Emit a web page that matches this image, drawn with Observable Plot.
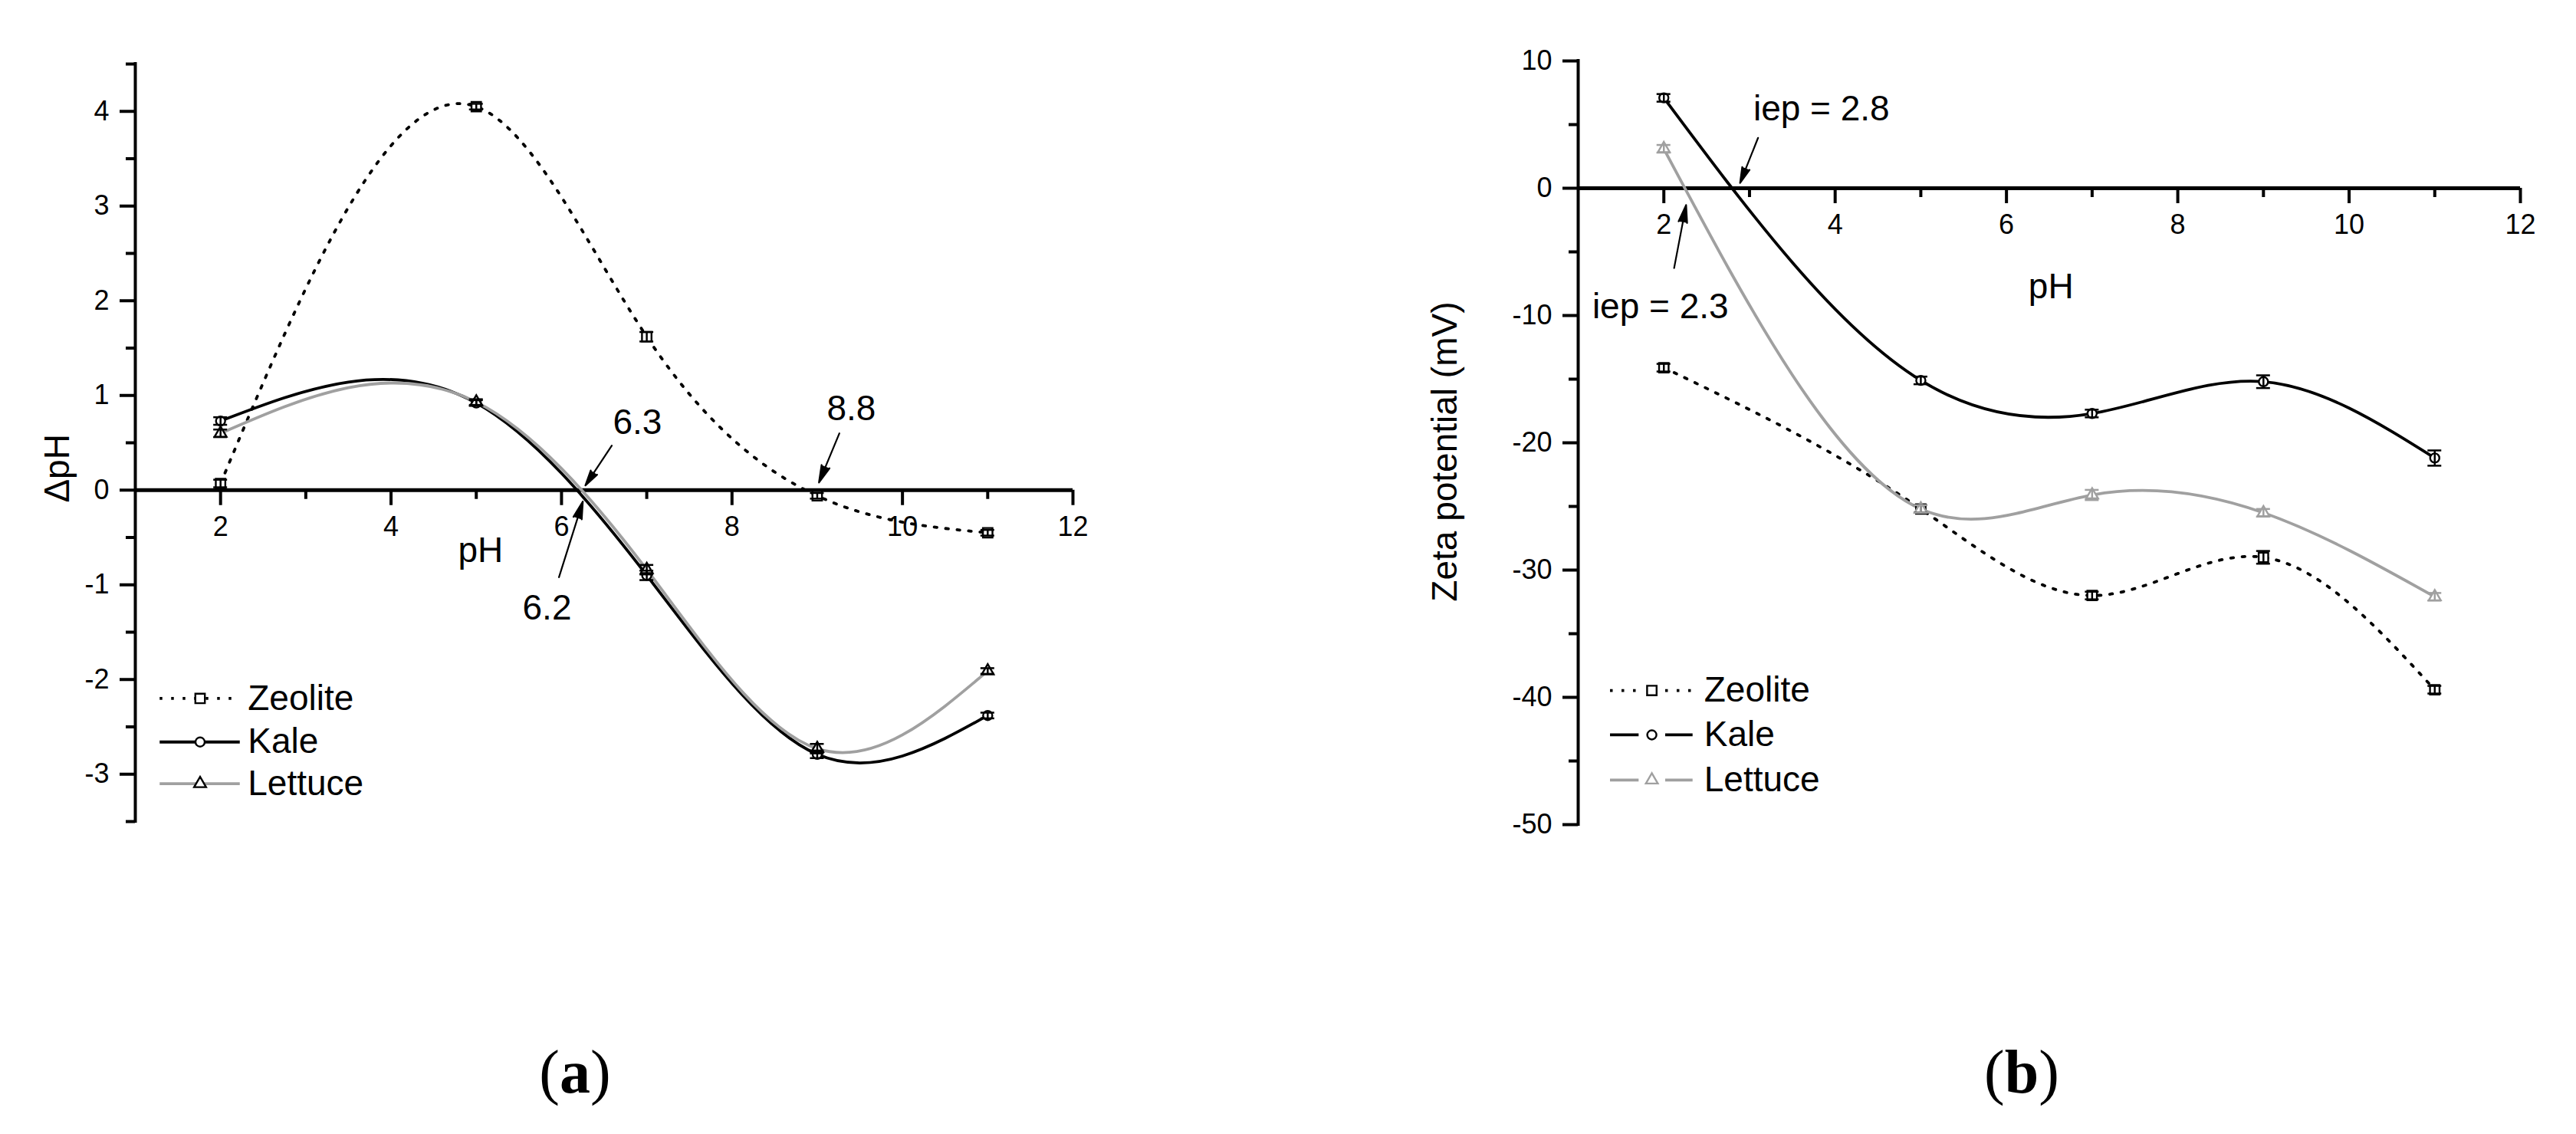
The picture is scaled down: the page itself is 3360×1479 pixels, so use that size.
<!DOCTYPE html>
<html><head><meta charset="utf-8">
<script src="https://cdn.jsdelivr.net/npm/d3@7"></script>
<script src="https://cdn.jsdelivr.net/npm/@observablehq/plot@0.6"></script>
<style>
html,body{margin:0;padding:0;background:#fff}
body{width:3360px;height:1479px;position:relative;overflow:hidden;font-family:"Liberation Sans",Arial,sans-serif}
#pa,#pb{position:absolute;top:0}
#pa{left:0}
#pb{left:1700px}
.cap{position:absolute;top:1398px;transform:translate(-50%,-50%);font-family:"Liberation Serif","Times New Roman",serif;font-size:80px;line-height:1;white-space:nowrap}
.cap b{font-weight:bold}
</style></head><body>
<div id="pa"></div><div id="pb"></div>
<div class="cap" style="left:750px">(<b>a</b>)</div>
<div class="cap" style="left:2637px">(<b>b</b>)</div>
<script>
// ---------------- data ----------------
const pH = [2, 5, 7, 9, 11];
const seriesNames = ["Zeolite", "Kale", "Lettuce"];

// (a) ΔpH
const dpH_Zeolite = [0.07, 4.05, 1.62, -0.06, -0.45];
const dpH_Kale    = [0.73, 0.92, -0.90, -2.79, -2.38];
const dpH_Lettuce = [0.60, 0.93, -0.84, -2.73, -1.91];
const dpHErr_Zeolite = [0.04, 0.03, 0.05, 0.03, 0.03];
const dpHErr_Kale    = [0.04, 0.03, 0.05, 0.04, 0.03];
const dpHErr_Lettuce = [0.04, 0.03, 0.05, 0.05, 0.03];

// (b) Zeta potential (mV)
const zeta_Zeolite = [-14.1, -25.2, -32.0, -29.0, -39.4];
const zeta_Kale    = [7.1, -15.1, -17.7, -15.2, -21.2];
const zeta_Lettuce = [3.1, -25.2, -24.1, -25.5, -32.1];
const zetaErr_Zeolite = [0.3, 0.3, 0.3, 0.5, 0.3];
const zetaErr_Kale    = [0.3, 0.3, 0.3, 0.5, 0.6];
const zetaErr_Lettuce = [0.3, 0.3, 0.4, 0.3, 0.3];

// axes
const xTicksMajor = [2, 4, 6, 8, 10, 12];
const xTicksMinor = [3, 5, 7, 9, 11];
const yTicksMajorA = [-3, -2, -1, 0, 1, 2, 3, 4];
const yTicksMinorA = [-3.5, -2.5, -1.5, -0.5, 0.5, 1.5, 2.5, 3.5, 4.5];
const yTicksMajorB = [-50, -40, -30, -20, -10, 0, 10];
const yTicksMinorB = [-45, -35, -25, -15, -5, 5];

// texts
const xTitle = "pH";
const yTitleA = "ΔpH";
const yTitleB = "Zeta potential (mV)";
const annotLabelsA = ["6.3", "6.2", "8.8"];
const annotLabelsB = ["iep = 2.8", "iep = 2.3"];

// ---------------- layout (data coordinates of placed items) ----------------
const layoutA = {
  xDomain: [1, 12], yDomain: [-3.5, 4.5],
  width: 1500, height: 1160, margins: [83, 101, 89, 176],
  legend: {x1: 1.29, x2: 2.23, xs: 1.76, xt: 2.32, ys: [-2.20, -2.66, -3.10], gap: false},
  ann: [
    {tx: 6.89, ty: 0.71, x1: 6.59, y1: 0.47, x2: 6.28, y2: 0.05},
    {tx: 5.83, ty: -1.25, x1: 5.97, y1: -0.92, x2: 6.25, y2: -0.12},
    {tx: 9.40, ty: 0.86, x1: 9.26, y1: 0.60, x2: 9.02, y2: 0.08}
  ],
  xTitlePos: {x: 5.05, y: -0.64},
  yTitlePos: {y: 0.23, dx: -101},
  yMaj: yTicksMajorA, yMin: yTicksMinorA
};
const layoutB = {
  xDomain: [1, 12], yDomain: [-50, 10],
  width: 1660, height: 1160, margins: [79, 73, 85, 358],
  legend: {x1: 1.376, x2: 2.34, xs: 1.86, gx1: 1.71, gx2: 2.02, xt: 2.47, ys: [-39.46, -42.95, -46.5], gap: true},
  ann: [
    {tx: 3.84, ty: 6.2, x1: 3.10, y1: 3.96, x2: 2.89, y2: 0.41},
    {tx: 1.96, ty: -9.35, x1: 2.12, y1: -6.27, x2: 2.26, y2: -1.32}
  ],
  xTitlePos: {x: 6.52, y: -7.74},
  yTitlePos: {y: -20.7, dx: -173},
  yMaj: yTicksMajorB, yMin: yTicksMinorB
};

const GRAY = "#a0a0a0";
const stylesA = {
  Zeolite: {stroke: "black", dash: "3.5 11.5", symbol: "square", r: 7, mstroke: "black"},
  Kale:    {stroke: "black", dash: null, symbol: "circle", r: 6, mstroke: "black"},
  Lettuce: {stroke: GRAY, dash: null, symbol: "triangle", r: 5.8, mstroke: "black"}
};
const stylesB = {
  Zeolite: {stroke: "black", dash: "3.5 11.5", symbol: "square", r: 7, mstroke: "black"},
  Kale:    {stroke: "black", dash: null, symbol: "circle", r: 6, mstroke: "black"},
  Lettuce: {stroke: GRAY, dash: null, symbol: "triangle", r: 5.8, mstroke: GRAY}
};

const rows = (ys, es) => pH.map((x, i) => ({x, y: ys[i], e: es[i]}));
const seriesA = {
  Zeolite: rows(dpH_Zeolite, dpHErr_Zeolite),
  Kale: rows(dpH_Kale, dpHErr_Kale),
  Lettuce: rows(dpH_Lettuce, dpHErr_Lettuce)
};
const seriesB = {
  Zeolite: rows(zeta_Zeolite, zetaErr_Zeolite),
  Kale: rows(zeta_Kale, zetaErr_Kale),
  Lettuce: rows(zeta_Lettuce, zetaErr_Lettuce)
};

// Curve factory: natural cubic spline with y as a function of x (drawn as Bézier segments)
function curveNaturalX(context) {
  let xs = [], ys = [];
  return {
    areaStart() {}, areaEnd() {},
    lineStart() { xs = []; ys = []; },
    point(x, y) { xs.push(+x); ys.push(+y); },
    lineEnd() {
      const n = xs.length;
      if (!n) return;
      context.moveTo(xs[0], ys[0]);
      if (n === 1) return;
      if (n === 2) { context.lineTo(xs[1], ys[1]); return; }
      const h = [], d = [];
      for (let i = 0; i < n - 1; i++) { h[i] = xs[i + 1] - xs[i]; d[i] = (ys[i + 1] - ys[i]) / h[i]; }
      const m = n - 2, a = [], b = [], c = [], r = [];
      for (let k = 0; k < m; k++) {
        const i = k + 1;
        a[k] = h[i - 1]; b[k] = 2 * (h[i - 1] + h[i]); c[k] = h[i]; r[k] = 6 * (d[i] - d[i - 1]);
      }
      for (let k = 1; k < m; k++) { const w = a[k] / b[k - 1]; b[k] -= w * c[k - 1]; r[k] -= w * r[k - 1]; }
      const M = new Array(n).fill(0);
      for (let k = m - 1; k >= 0; k--) M[k + 1] = (r[k] - (k < m - 1 ? c[k] * M[k + 2] : 0)) / b[k];
      for (let i = 0; i < n - 1; i++) {
        const s0 = d[i] - h[i] * (2 * M[i] + M[i + 1]) / 6;
        const s1 = d[i] + h[i] * (M[i] + 2 * M[i + 1]) / 6;
        context.bezierCurveTo(xs[i] + h[i] / 3, ys[i] + s0 * h[i] / 3,
                              xs[i + 1] - h[i] / 3, ys[i + 1] - s1 * h[i] / 3,
                              xs[i + 1], ys[i + 1]);
      }
    }
  };
}

const FONT = "Liberation Sans, Arial, sans-serif";
const LW = 3.8;

function panel(L, series, styles, yTitle, annLabels) {
  const [x0, x1] = L.xDomain, [y0, y1] = L.yDomain;
  const marks = [];
  // y axis
  marks.push(Plot.ruleX([x0], {y1: () => y0, y2: () => y1, strokeWidth: 4, strokeLinecap: "square"}));
  marks.push(Plot.ruleY(L.yMaj, {y: d => d, x1: () => x0, x2: () => x0, insetLeft: -20, strokeWidth: 4}));
  marks.push(Plot.ruleY(L.yMin, {y: d => d, x1: () => x0, x2: () => x0, insetLeft: -12, strokeWidth: 4}));
  marks.push(Plot.text(L.yMaj, {x: () => x0, y: d => d, text: d => String(d), textAnchor: "end", dx: -34, fontSize: 36}));
  // x axis at y = 0
  marks.push(Plot.ruleY([0], {x1: () => x0, x2: () => x1, strokeWidth: 5}));
  marks.push(Plot.ruleX(xTicksMajor, {x: d => d, y1: () => 0, y2: () => 0, insetBottom: -20, strokeWidth: 4}));
  marks.push(Plot.ruleX(xTicksMinor, {x: d => d, y1: () => 0, y2: () => 0, insetBottom: -12, strokeWidth: 4}));
  marks.push(Plot.text(xTicksMajor, {x: d => d, y: () => 0, text: d => String(d), dy: 48, fontSize: 36}));
  // titles
  marks.push(Plot.text([xTitle], {x: () => L.xTitlePos.x, y: () => L.xTitlePos.y, text: d => d, fontSize: 46}));
  marks.push(Plot.text([yTitle], {x: () => x0, y: () => L.yTitlePos.y, text: d => d, dx: L.yTitlePos.dx, rotate: -90, fontSize: 46}));
  // curves
  for (const name of seriesNames) {
    const s = styles[name];
    marks.push(Plot.line(series[name], {x: "x", y: "y", curve: curveNaturalX, stroke: s.stroke, strokeWidth: LW,
      strokeDasharray: s.dash || undefined}));
  }
  // markers
  for (const name of seriesNames) {
    const s = styles[name];
    marks.push(Plot.dot(series[name], {x: "x", y: "y", symbol: s.symbol, r: s.r, fill: "white", stroke: s.mstroke, strokeWidth: 2.4}));
  }
  // error bars
  for (const name of seriesNames) {
    const s = styles[name];
    const d = series[name];
    marks.push(Plot.ruleX(d, {x: "x", y1: r => r.y - r.e, y2: r => r.y + r.e, stroke: s.mstroke, strokeWidth: 2.5}));
    marks.push(Plot.ruleY(d, {y: r => r.y + r.e, x1: "x", x2: "x", insetLeft: -9, insetRight: -9, stroke: s.mstroke, strokeWidth: 2.5}));
    marks.push(Plot.ruleY(d, {y: r => r.y - r.e, x1: "x", x2: "x", insetLeft: -9, insetRight: -9, stroke: s.mstroke, strokeWidth: 2.5}));
  }
  // legend
  const lg = L.legend;
  seriesNames.forEach((name, i) => {
    const s = styles[name];
    const yy = lg.ys[i];
    const segs = lg.gap ? [[lg.x1, lg.gx1], [lg.gx2, lg.x2]] : [[lg.x1, lg.x2]];
    marks.push(Plot.ruleY(segs, {y: () => yy, x1: d => d[0], x2: d => d[1], stroke: s.stroke, strokeWidth: LW,
      strokeDasharray: s.dash || undefined}));
    marks.push(Plot.dot([name], {x: () => lg.xs, y: () => yy, symbol: s.symbol, r: s.r, fill: "white", stroke: s.mstroke, strokeWidth: 2.4}));
    marks.push(Plot.text([name], {x: () => lg.xt, y: () => yy, text: d => d, textAnchor: "start", fontSize: 46}));
  });
  // annotations
  const ann = L.ann.map((a, i) => ({...a, label: annLabels[i]}));
  marks.push(Plot.arrow(ann, {x1: "x1", y1: "y1", x2: "x2", y2: "y2", stroke: "black", fill: "black", strokeWidth: 2.2, headLength: 16, headAngle: 28}));
  marks.push(Plot.text(ann, {x: "tx", y: "ty", text: "label", fontSize: 46}));

  const [mt, mr, mb, ml] = L.margins;
  return Plot.plot({
    width: L.width, height: L.height,
    marginTop: mt, marginRight: mr, marginBottom: mb, marginLeft: ml,
    x: {domain: L.xDomain, axis: null},
    y: {domain: L.yDomain, axis: null},
    style: {fontFamily: FONT, background: "white", overflow: "visible", color: "black"},
    marks
  });
}

document.getElementById("pa").appendChild(panel(layoutA, seriesA, stylesA, yTitleA, annotLabelsA));
document.getElementById("pb").appendChild(panel(layoutB, seriesB, stylesB, yTitleB, annotLabelsB));
</script>
</body></html>
